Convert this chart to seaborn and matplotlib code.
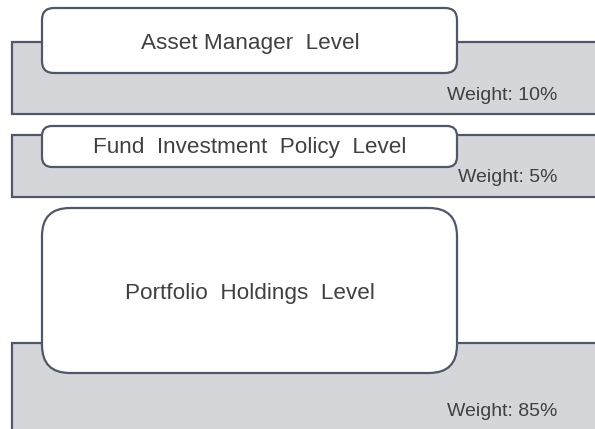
import matplotlib
matplotlib.use("Agg")
import matplotlib.pyplot as plt
from matplotlib.patches import FancyBboxPatch, Rectangle
import seaborn as sns

sns.set_theme(style="white")
plt.rcParams['font.family'] = ['Liberation Sans', 'DejaVu Sans']

# data
levels = ["Asset Manager  Level", "Fund  Investment  Policy  Level", "Portfolio  Holdings  Level"]
weights = [10, 5, 85]

# layout in pixel units (y grows downward)
gray_top = [42, 135, 343]
gray_bottom = [114, 197, 440]
white_top = [8, 126, 208]
white_bottom = [73, 167, 373]
corner = [12, 10, 28]
label_y = [43, 148, 293]
weight_y = [96, 178, 411]

edge = "#4f5868"
fill = "#d4d6da"
text_col = "#404040"

fig = plt.figure(figsize=(5.95, 4.29), dpi=100)
ax = fig.add_axes([0, 0, 1, 1])
ax.set_xlim(0, 595)
ax.set_ylim(429, 0)
ax.axis("off")

for i, name in enumerate(levels):
    ax.add_patch(Rectangle((12, gray_top[i]), 620, gray_bottom[i] - gray_top[i],
                           facecolor=fill, edgecolor=edge, linewidth=1.6, zorder=1))
    ax.add_patch(FancyBboxPatch((42, white_top[i]), 415, white_bottom[i] - white_top[i],
                                boxstyle=f"round,pad=0,rounding_size={corner[i]}",
                                facecolor="white", edgecolor=edge, linewidth=1.6, zorder=2))
    ax.text(250, label_y[i], name, ha="center", va="center",
            fontsize=16.2, color=text_col, zorder=3)
    ax.text(557, weight_y[i], f"Weight: {weights[i]}%", ha="right", va="center",
            fontsize=14, color=text_col, zorder=3)

fig.savefig("out.png", dpi=100)
